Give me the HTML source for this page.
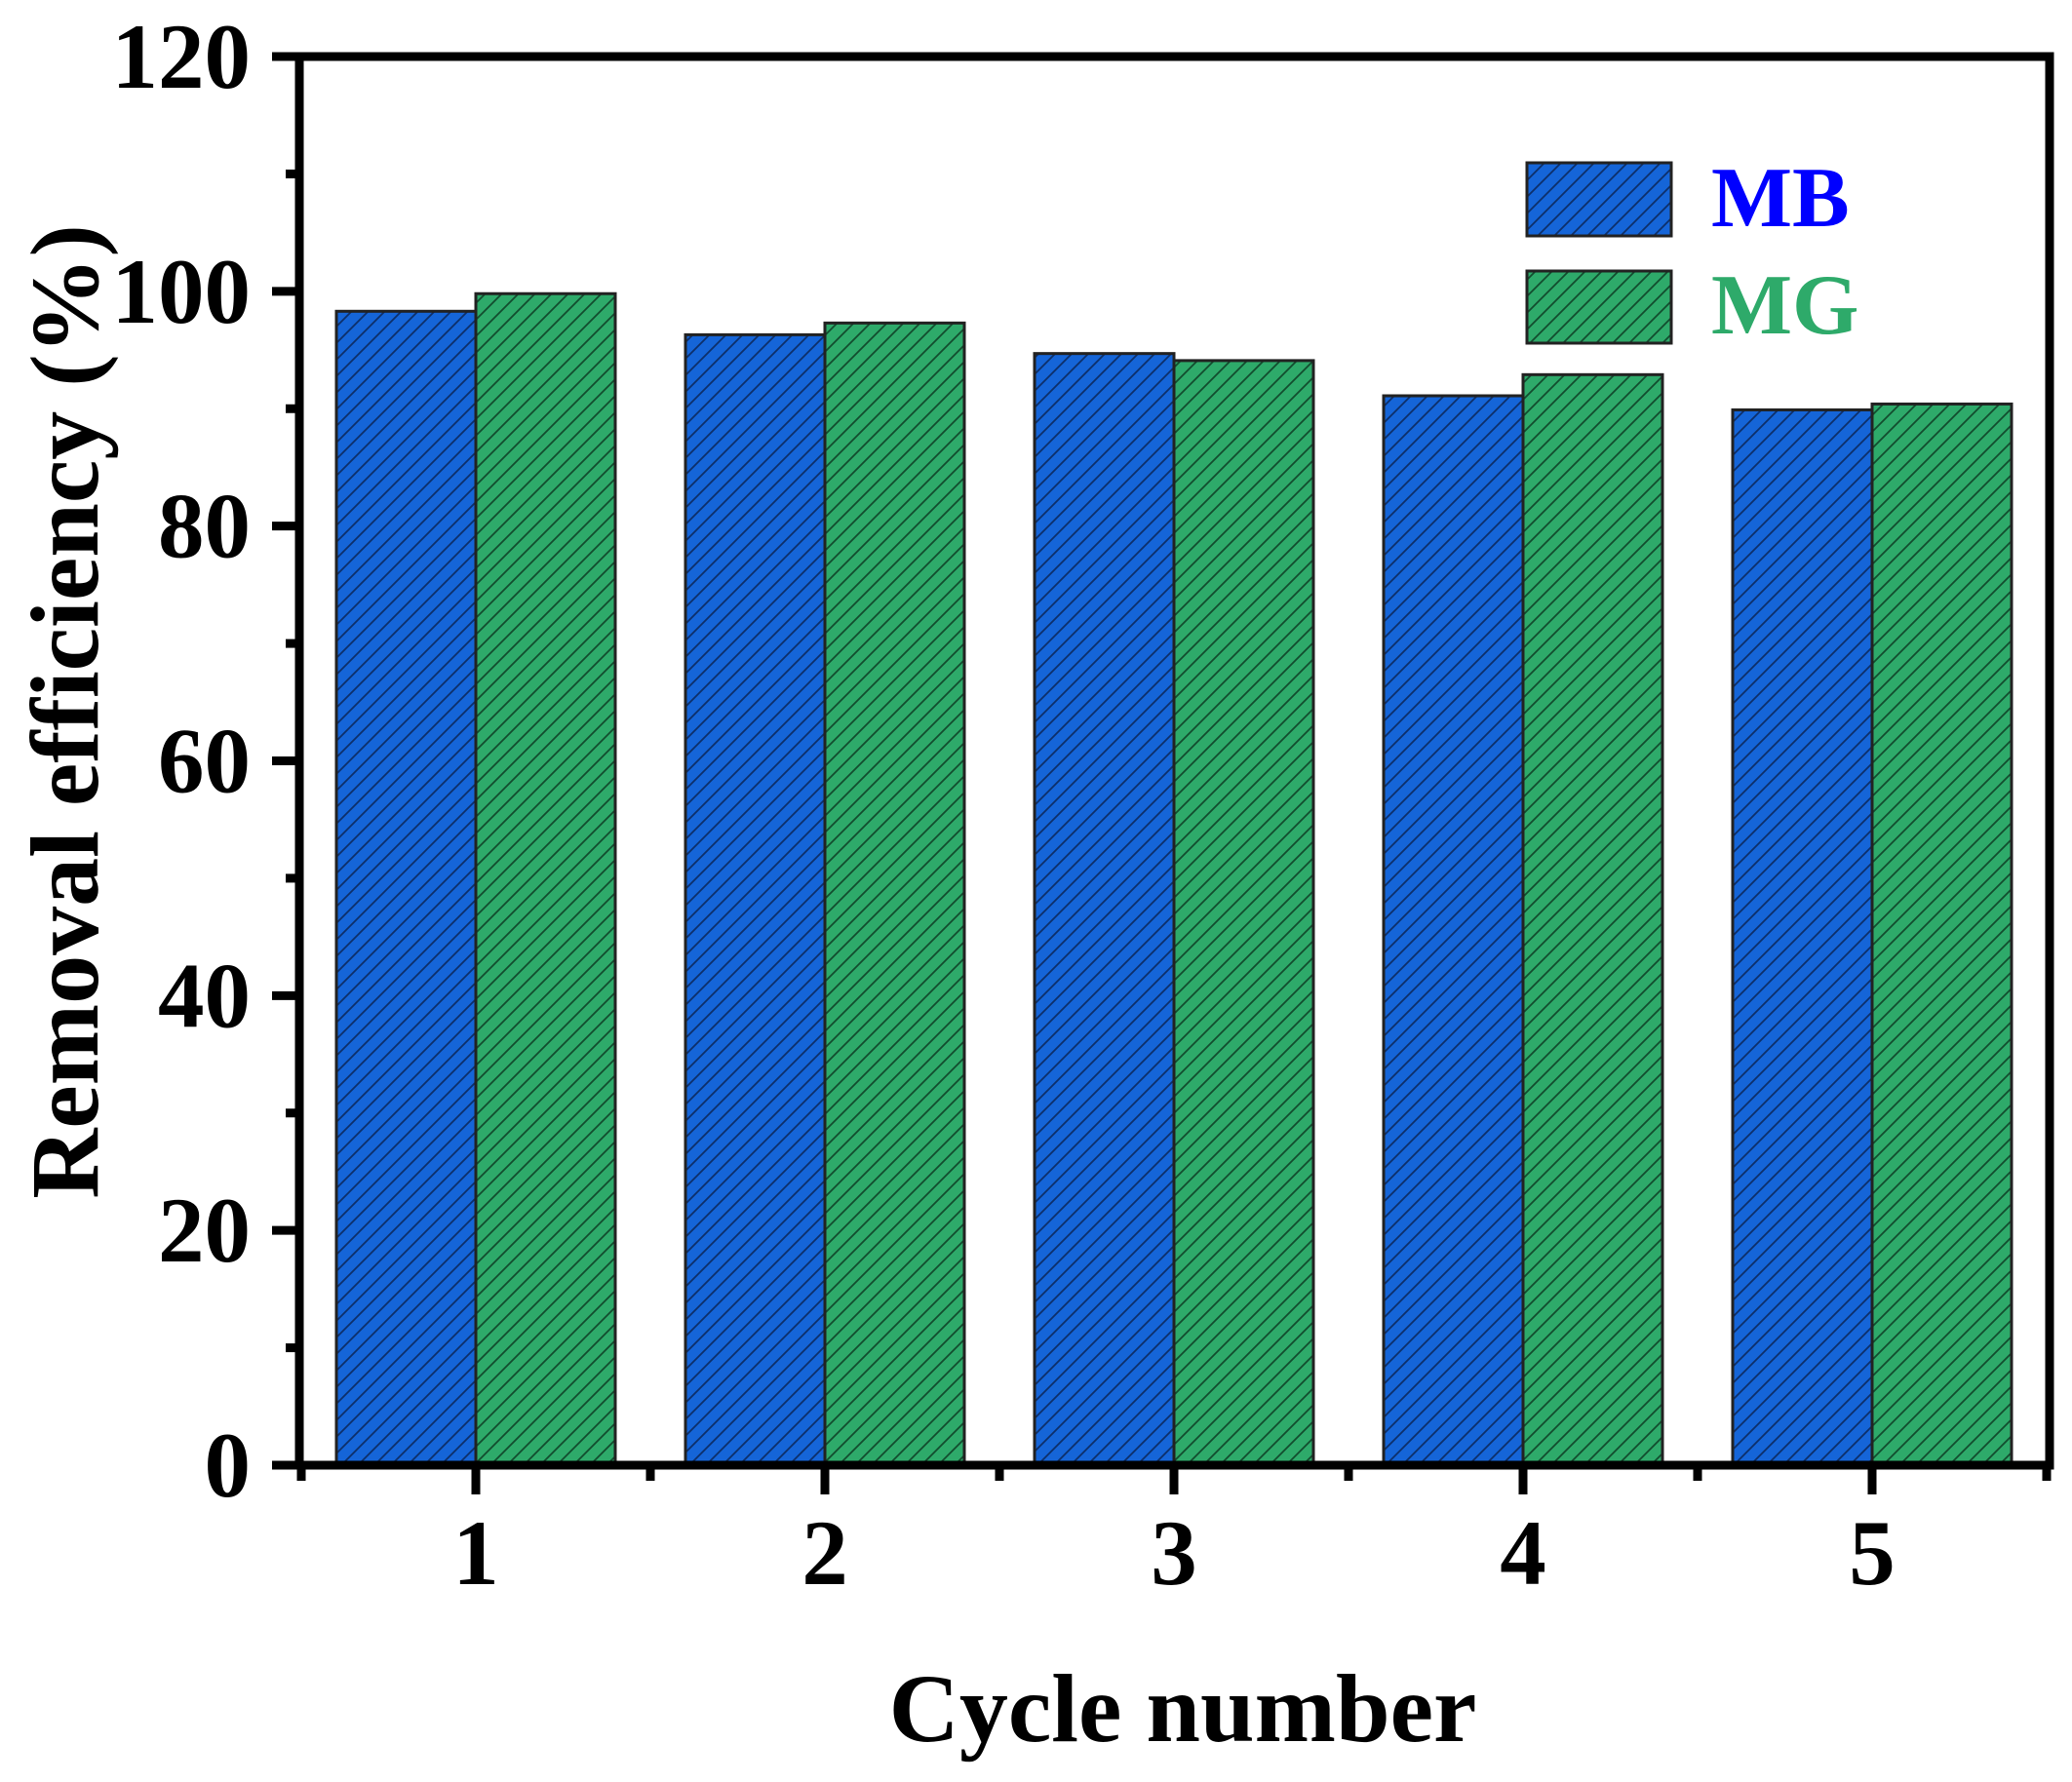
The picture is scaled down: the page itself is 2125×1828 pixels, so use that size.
<!DOCTYPE html>
<html><head><meta charset="utf-8"><style>
html,body{margin:0;padding:0;background:#fff;}
svg{display:block;font-family:"Liberation Serif",serif;font-weight:bold;}
</style></head><body>
<svg id="chart" width="2125" height="1828" viewBox="0 0 2125 1828" xmlns="http://www.w3.org/2000/svg">
<defs>
<pattern id="hatchB" patternUnits="userSpaceOnUse" width="17" height="17">
<rect width="17" height="17" fill="#1565d8"/>
<path d="M-1,18 L18,-1 M-9,9 L9,-9 M8,26 L26,8" stroke="#0d2f6a" stroke-width="1.8"/>
</pattern>
<pattern id="hatchG" patternUnits="userSpaceOnUse" width="17" height="17">
<rect width="17" height="17" fill="#2eaa6a"/>
<path d="M-1,18 L18,-1 M-9,9 L9,-9 M8,26 L26,8" stroke="#124d2e" stroke-width="1.8"/>
</pattern>
</defs>
<g id="bars"></g>
<g id="axes"></g>
<text transform="translate(100,730) rotate(-90)" text-anchor="middle" font-size="100">Removal efficiency (%)</text>
<text x="1213" y="1786" text-anchor="middle" font-size="100">Cycle number</text>
<g>
<rect x="1566" y="167" width="148" height="75" fill="url(#hatchB)" stroke="#222" stroke-width="3"/>
<text x="1755" y="232" font-size="88" fill="#0000ff">MB</text>
<rect x="1566" y="278" width="148" height="74" fill="url(#hatchG)" stroke="#222" stroke-width="3"/>
<text x="1755" y="342" font-size="88" fill="#2eaa6a">MG</text>
</g>
</svg>
<script>
const categories = ["1","2","3","4","5"];
const mbValues = [98.3, 96.3, 94.7, 91.1, 89.9];
const mgValues = [99.8, 97.3, 94.1, 92.9, 90.4];
const yTicks = [0, 20, 40, 60, 80, 100, 120];

const NS = "http://www.w3.org/2000/svg";
const X0 = 307, X1 = 2102, Y0 = 1503, Yt = 58;
function ys(v){ return Y0 - (v/120)*(Y0-Yt); }
function xc(i){ return 488 + i*358; }
const BW = 143;
function mk(tag, attrs, parent){ const e=document.createElementNS(NS,tag); for(const k in attrs) e.setAttribute(k,attrs[k]); parent.appendChild(e); return e; }
const bars = document.getElementById('bars');
const axes = document.getElementById('axes');
categories.forEach((c,i)=>{
  const b1 = mk('rect',{x:xc(i)-BW,y:ys(mbValues[i]),width:BW,height:Y0-ys(mbValues[i]),fill:'url(#hatchB)',stroke:'#222','stroke-width':3},bars);
  
  
  const b2 = mk('rect',{x:xc(i),y:ys(mgValues[i]),width:BW,height:Y0-ys(mgValues[i]),fill:'url(#hatchG)',stroke:'#222','stroke-width':3},bars);
  
  
});
const fr = mk('rect',{x:X0,y:Yt,width:X1-X0,height:Y0-Yt,fill:'none',stroke:'#000','stroke-width':9},axes);


yTicks.forEach(v=>{
  const y=ys(v);
  const t = mk('line',{x1:X0-28,x2:X0,y1:y,y2:y,stroke:'#000','stroke-width':9},axes);
  
  
  const l = mk('text',{x:257,y:y+32,'text-anchor':'end','font-size':95},axes);
  l.textContent=v;
  
  
  if(v<120){ const m = mk('line',{x1:X0-14,x2:X0,y1:ys(v+10),y2:ys(v+10),stroke:'#000','stroke-width':9},axes);
    
     }
});
categories.forEach((c,i)=>{
  const t = mk('line',{x1:xc(i),x2:xc(i),y1:Y0,y2:Y0+30,stroke:'#000','stroke-width':9},axes);
  
  
  const l = mk('text',{x:xc(i),y:1625,'text-anchor':'middle','font-size':95},axes);
  l.textContent=c;
  
  
});
for(let i=-1;i<categories.length;i++){
  const x = xc(i)+179;
  const m = mk('line',{x1:x,x2:x,y1:Y0,y2:Y0+16,stroke:'#000','stroke-width':9},axes);
  
  
}
</script>
</body></html>
